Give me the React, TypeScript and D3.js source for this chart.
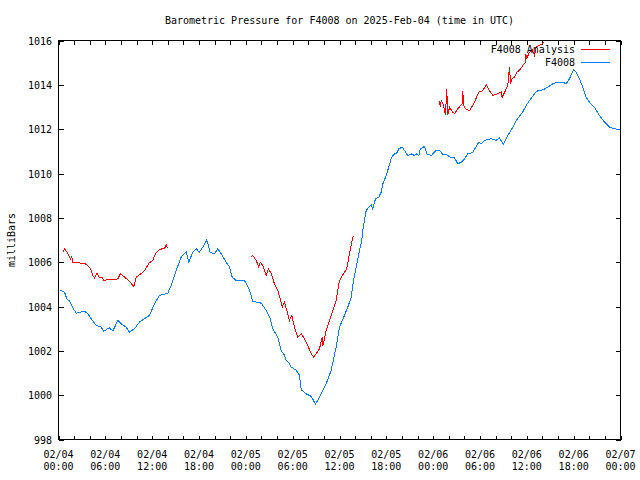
import React from "react";
import * as d3 from "d3";

const TITLE = "Barometric Pressure for F4008 on 2025-Feb-04 (time in UTC)";
const Y_LABEL = "milliBars";
const SERIES_NAMES = ["F4008 Analysis", "F4008"];
const START_UTC = Date.UTC(2025, 1, 4, 0, 0, 0);
const END_UTC = Date.UTC(2025, 1, 7, 0, 0, 0);
const Y_TICKS = [998, 1000, 1002, 1004, 1006, 1008, 1010, 1012, 1014, 1016];

// F4008 observed (hours since 02/04 00:00 UTC)
const obsHours = [
  0.13, 0.77, 1.11, 1.41, 1.83, 2.27, 3.33, 3.75, 4.19, 4.83, 5.47, 5.8, 6.53, 6.96, 7.6, 8.03, 8.67, 9.1, 9.74,
  10.38, 11.02, 11.66, 12.3, 12.94, 14.0, 14.44, 15.08, 15.72, 16.14, 16.36, 16.69, 17.2, 17.64, 18.06, 18.49,
  19.0, 19.43, 19.98, 20.41, 20.84, 21.48, 21.91, 22.25, 22.76, 23.83, 24.47, 24.89, 25.33, 25.97, 26.61, 27.03,
  27.45, 28.09, 28.31, 28.52, 28.95, 29.17, 29.59, 29.81, 30.45, 30.87, 31.09, 31.73, 32.37, 32.92, 33.44, 34.29,
  34.93, 35.57, 36.0, 36.64, 37.06, 37.5, 37.79, 38.14, 38.56, 38.86, 38.99, 39.42, 39.84, 40.06, 40.27, 40.61,
  41.03, 41.34, 41.55, 41.98, 42.31, 42.62, 42.92, 43.34, 43.59, 44.03, 44.32, 44.75, 45.18, 45.61, 45.9, 46.16,
  46.34, 46.89, 47.18, 47.75, 48.39, 48.81, 49.23, 49.67, 50.18, 50.73, 51.15, 51.59, 52.01, 52.43, 53.07, 53.59,
  53.84, 54.15, 54.57, 55.43, 56.07, 56.49, 57.01, 57.56, 58.2, 58.63, 59.48, 59.91, 60.34, 60.98, 61.4, 62.04,
  62.68, 63.32, 63.96, 64.6, 65.04, 65.46, 65.97, 66.32, 66.74, 67.17, 67.6, 68.02, 68.66, 69.3, 69.95, 70.59,
  71.23, 71.87,
];
const obsValues = [
  1004.75, 1004.65, 1004.3, 1004.27, 1003.94, 1003.7, 1003.79, 1003.67, 1003.45, 1003.15, 1003.07, 1002.89, 1003.04,
  1002.89, 1003.37, 1003.22, 1003.07, 1002.84, 1003.0, 1003.3, 1003.45, 1003.6, 1004.12, 1004.5, 1004.6, 1004.95,
  1005.63, 1006.23, 1006.38, 1006.45, 1006.0, 1006.45, 1006.6, 1006.45, 1006.68, 1007.0, 1006.45, 1006.38, 1006.6,
  1006.38, 1006.0, 1005.78, 1005.33, 1005.17, 1005.17, 1004.75, 1004.22, 1004.2, 1004.15, 1003.82, 1003.55, 1003.0,
  1002.62, 1002.32, 1002.02, 1001.8, 1001.57, 1001.42, 1001.27, 1001.12, 1000.9, 1000.25, 1000.06, 999.95, 999.6,
  999.9, 1000.51, 1001.12, 1002.17, 1003.07, 1003.6, 1003.97, 1004.42, 1005.17, 1005.78, 1006.53, 1007.0, 1007.45,
  1008.33, 1008.51, 1008.6, 1008.4, 1008.86, 1008.93, 1009.16, 1009.53, 1009.91, 1010.29, 1010.66, 1010.86, 1010.92,
  1011.11, 1011.19, 1011.04, 1010.81, 1010.89, 1010.81, 1010.89, 1010.81, 1011.11, 1011.22, 1010.89, 1010.81,
  1011.04, 1011.04, 1010.86, 1010.86, 1010.74, 1010.71, 1010.44, 1010.51, 1010.66, 1010.89, 1010.95, 1011.26,
  1011.41, 1011.35, 1011.49, 1011.57, 1011.5, 1011.61, 1011.31, 1011.71, 1012.09, 1012.39, 1012.77, 1013.07,
  1013.29, 1013.6, 1013.74, 1013.77, 1013.89, 1014.05, 1014.12, 1014.12, 1014.05, 1014.27, 1014.68, 1014.57,
  1014.27, 1013.9, 1013.44, 1013.22, 1012.99, 1012.62, 1012.32, 1012.09, 1012.02, 1011.97,
];

// F4008 Analysis (null = gap)
const anaHours = [
  0.55, 0.77, 1.11, 1.54, 1.7, 1.83, 2.47, 2.91, 3.33, 3.75, 4.1, 4.39, 4.61, 4.91, 5.25, 5.6, 5.8, 6.11, 6.96, 7.6,
  7.94, 8.46, 9.1, 9.65, 9.95, 10.67, 11.11, 11.57, 12.08, 12.43, 12.81, 13.23, 13.58, 13.8, 13.93,
  19.0,
  24.69, 24.89, 25.33, 25.66, 25.84, 26.17, 26.61, 26.9, 27.25, 27.67, 28.09, 28.4, 28.66, 28.95, 29.25, 29.59,
  29.89, 30.23, 30.66, 31.09, 31.51, 31.94, 32.37, 32.67, 33.01, 33.44, 33.78, 33.86, 34.29, 34.72, 35.57, 36.0,
  36.64, 36.93, 37.28, 37.7, 37.88,
  43.0,
  48.81, 48.9, 49.03, 49.32, 49.58, 49.74, 49.87, 50.09, 50.51, 50.73, 51.15, 51.72, 51.8, 51.89, 52.15, 52.66,
  53.3, 53.84, 54.36, 54.79, 55.21, 55.64, 56.28, 56.71, 56.84, 57.26, 57.56, 57.78, 57.91, 58.12, 58.41, 58.71,
  59.06, 59.48, 59.83, 59.87, 60.0, 60.34, 60.68, 60.98, 61.2, 61.53, 61.84, 62.26,
];
const anaValues = [
  1006.45, 1006.6, 1006.45, 1006.15, 1006.25, 1006.0, 1006.0, 1005.95, 1005.95, 1005.85, 1005.7, 1005.4, 1005.3,
  1005.5, 1005.3, 1005.3, 1005.17, 1005.2, 1005.2, 1005.25, 1005.48, 1005.33, 1005.13, 1004.9, 1005.33, 1005.5,
  1005.66, 1005.95, 1006.08, 1006.38, 1006.53, 1006.6, 1006.6, 1006.8, 1006.65,
  null,
  1006.26, 1006.3, 1006.08, 1005.78, 1006.0, 1005.85, 1005.4, 1005.7, 1005.48, 1005.02, 1004.72, 1004.35, 1003.97,
  1004.2, 1003.82, 1003.37, 1003.6, 1003.07, 1002.62, 1002.77, 1002.55, 1002.24, 1001.87, 1001.72, 1001.87, 1002.1,
  1002.62, 1002.2, 1002.92, 1003.37, 1004.27, 1005.17, 1005.55, 1005.7, 1006.38, 1007.13, 1007.2,
  null,
  1013.29, 1013.02, 1013.29, 1013.1, 1012.62, 1013.82, 1012.62, 1012.99, 1012.77, 1012.7, 1012.92, 1013.15, 1013.74,
  1013.1, 1012.92, 1012.84, 1013.22, 1013.67, 1013.74, 1014.0, 1013.74, 1013.52, 1013.6, 1013.67, 1013.44, 1013.74,
  1013.97, 1014.8, 1014.05, 1014.27, 1014.35, 1014.57, 1014.65, 1014.87, 1015.02, 1015.4, 1015.2, 1015.47, 1015.58,
  1015.32, 1015.7, 1015.77, 1015.82, 1015.95,
];

const W = 640;
const H = 480;
const M = { left: 58.5, right: 620.5, top: 40.5, bottom: 439.5 };
const FONT = "'DejaVu Sans Mono', monospace";
const RED = "#ff0000";
const BLUE = "#0080ff";

type Pt = { t: Date; v: number | null };

export default function App() {
  const x = d3
    .scaleUtc()
    .domain([new Date(START_UTC), new Date(END_UTC)])
    .range([M.left, M.right]);
  const y = d3.scaleLinear().domain([998, 1016]).range([M.bottom, M.top]);

  const toDate = (h: number) => new Date(START_UTC + h * 3600e3);
  const obs: Pt[] = obsHours.map((h, i) => ({ t: toDate(h), v: obsValues[i] }));
  const ana: Pt[] = anaHours.map((h, i) => ({ t: toDate(h), v: anaValues[i] }));

  const line = d3
    .line<Pt>()
    .defined((d) => d.v !== null)
    .x((d) => x(d.t))
    .y((d) => y(d.v as number));

  const majorX = x.ticks(d3.utcHour.every(6) as d3.TimeInterval);
  const minorX = x.ticks(d3.utcHour.every(2) as d3.TimeInterval);
  const fmtDate = d3.utcFormat("%m/%d");
  const fmtTime = d3.utcFormat("%H:%M");

  return (
    <svg
      width={W}
      height={H}
      style={{ position: "absolute", left: 0, top: 0, display: "block", background: "#fff" }}
      fontFamily={FONT}
      fontSize={10}
    >
      <rect x={0} y={0} width={W} height={H} fill="#fff" />
      <text x={(M.left + M.right) / 2} y={24} textAnchor="middle" fill="#000">
        {TITLE}
      </text>
      <text
        transform={`translate(15,${(M.top + M.bottom) / 2}) rotate(-90)`}
        textAnchor="middle"
        fill="#000"
      >
        {Y_LABEL}
      </text>

      {/* y ticks */}
      {Y_TICKS.map((v) => (
        <g key={"y" + v}>
          <line x1={M.left} x2={M.left + 5} y1={Math.round(y(v)) + 0.5} y2={Math.round(y(v)) + 0.5} stroke="#000" shapeRendering="crispEdges" />
          <line x1={M.right} x2={M.right - 5} y1={Math.round(y(v)) + 0.5} y2={Math.round(y(v)) + 0.5} stroke="#000" shapeRendering="crispEdges" />
          <text x={52} y={y(v) + 4} textAnchor="end" fill="#000">
            {v}
          </text>
        </g>
      ))}

      {/* x ticks */}
      {minorX.map((t) => {
        const px = Math.round(x(t)) + 0.5;
        return (
          <g key={"m" + t.getTime()} shapeRendering="crispEdges">
            <line x1={px} x2={px} y1={M.bottom} y2={M.bottom - 4} stroke="#000" />
            <line x1={px} x2={px} y1={M.top} y2={M.top + 4} stroke="#000" />
          </g>
        );
      })}
      {majorX.map((t) => (
        <g key={"M" + t.getTime()}>
          <text x={x(t)} y={458} textAnchor="middle" fill="#000">
            {fmtDate(t)}
          </text>
          <text x={x(t)} y={470} textAnchor="middle" fill="#000">
            {fmtTime(t)}
          </text>
        </g>
      ))}

      {/* data */}
      <path d={line(obs) ?? ""} fill="none" stroke={BLUE} strokeWidth={1} shapeRendering="crispEdges" />
      <path d={line(ana) ?? ""} fill="none" stroke={RED} strokeWidth={1} shapeRendering="crispEdges" />

      {/* frame */}
      <rect
        x={M.left}
        y={M.top}
        width={M.right - M.left}
        height={M.bottom - M.top}
        fill="none"
        stroke="#000"
        strokeWidth={1}
        shapeRendering="crispEdges"
      />

      {/* legend */}
      <text x={575} y={53} textAnchor="end" fill="#000">
        {SERIES_NAMES[0]}
      </text>
      <line x1={581} x2={610} y1={49.5} y2={49.5} stroke={RED} shapeRendering="crispEdges" />
      <text x={575} y={66} textAnchor="end" fill="#000">
        {SERIES_NAMES[1]}
      </text>
      <line x1={581} x2={610} y1={62.5} y2={62.5} stroke={BLUE} shapeRendering="crispEdges" />
    </svg>
  );
}
